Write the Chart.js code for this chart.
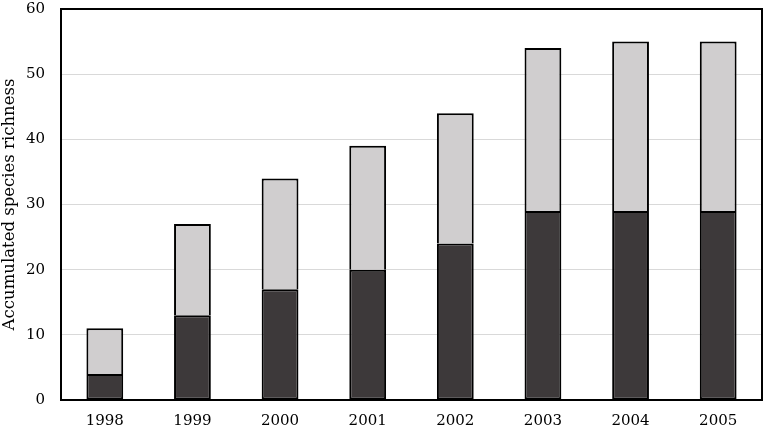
<!DOCTYPE html>
<html>
<head>
<meta charset="utf-8">
<script src="https://cdn.jsdelivr.net/npm/chart.js@4"></script>
<style>
  html, body { margin: 0; padding: 0; background: #fff; }
  #wrap { width: 765px; height: 432px; }
</style>
</head>
<body>
<div id="wrap"><canvas id="richnessChart"></canvas></div>
<script>
// Accumulated species richness per year
const years = ["1998", "1999", "2000", "2001", "2002", "2003", "2004", "2005"];
const lowerValues = [4, 13, 17, 20, 24, 29, 29, 29];
const upperValues = [7, 14, 17, 19, 20, 25, 26, 26];
const yTicks = [0, 10, 20, 30, 40, 50, 60];

// Draw a black frame round the plot area
const frameBox = {
    id: 'frameBox',
    afterDraw(chart) {
        const { ctx, chartArea } = chart;
        ctx.save();
        ctx.strokeStyle = '#000';
        ctx.lineWidth = 2;
        ctx.strokeRect(chartArea.left, chartArea.top, chartArea.right - chartArea.left, chartArea.bottom - chartArea.top);
        ctx.restore();
    }
};

const serif = "'DejaVu Serif', 'Liberation Serif', serif";

function generateBarChart() {
    const ctx = document.getElementById('richnessChart').getContext('2d');

    new Chart(ctx, {
        type: 'bar',
        data: {
            labels: years,
            datasets: [{
                data: lowerValues,
                backgroundColor: '#3d393a',
                borderColor: '#000',
                borderWidth: 2,
                borderSkipped: false,
                categoryPercentage: 0.84,
                barPercentage: 0.5
            }, {
                data: upperValues,
                backgroundColor: '#d0cecf',
                borderColor: '#000',
                borderWidth: 2,
                borderSkipped: 'bottom',
                categoryPercentage: 0.84,
                barPercentage: 0.5
            }]
        },
        options: {
            responsive: true,
            maintainAspectRatio: false,
            animation: false,
            layout: { padding: { top: 9, right: 3, left: 0, bottom: 0 } },
            plugins: {
                legend: { display: false },
                tooltip: { enabled: false }
            },
            scales: {
                x: {
                    stacked: true,
                    afterFit(axis) {
                        axis.height = 32;
                    },
                    grid: { display: false },
                    border: { color: '#000', width: 2 },
                    ticks: { color: '#000', font: { family: serif, size: 15 }, padding: 4 }
                },
                y: {
                    stacked: true,
                    min: 0,
                    max: 60,
                    afterBuildTicks(axis) {
                        axis.ticks = yTicks.map(v => ({ value: v }));
                    },
                    afterFit(axis) {
                        axis.width = 61;
                        axis.paddingTop = 0;
                        axis.paddingBottom = 0;
                    },
                    grid: { color: '#d9d9d9', lineWidth: 1, drawTicks: false },
                    border: { color: '#000', width: 2 },
                    ticks: { color: '#000', font: { family: serif, size: 15 }, padding: 16 },
                    title: {
                        display: true,
                        text: 'Accumulated species richness',
                        color: '#000',
                        font: { family: serif, size: 16.5 },
                        padding: 0
                    }
                }
            }
        },
        plugins: [frameBox]
    });
}

window.onload = function() {
    generateBarChart();
};
</script>
</body>
</html>
